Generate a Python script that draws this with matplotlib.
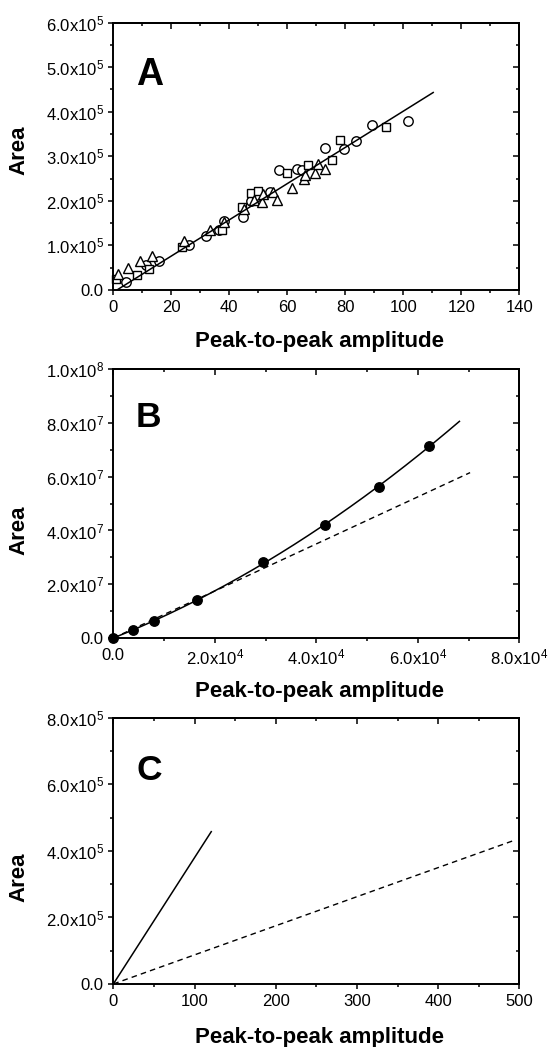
import numpy as np
import matplotlib
matplotlib.use("Agg")
import matplotlib.pyplot as plt
from matplotlib.ticker import MultipleLocator, FuncFormatter

plt.rcParams['font.family'] = ['Liberation Sans', 'DejaVu Sans']
plt.rcParams['mathtext.fontset'] = 'custom'
plt.rcParams['mathtext.rm'] = 'Liberation Sans'
plt.rcParams['mathtext.it'] = 'Liberation Sans:italic'
plt.rcParams['mathtext.bf'] = 'Liberation Sans:bold'

# ---- panel A: three open-marker series and a linear fit
a_circ_x = [4.4, 11.3, 15.9, 26.0, 31.8, 36.6, 38.0, 44.7, 47.5, 49.3, 54.1,
            57.1, 63.3, 65.0, 73.0, 79.4, 83.6, 89.3, 101.7]
a_circ_y = [0.19e5, 0.55e5, 0.645e5, 1.02e5, 1.215e5, 1.335e5, 1.545e5, 1.635e5,
            2.0e5, 2.12e5, 2.2e5, 2.685e5, 2.72e5, 2.685e5, 3.19e5, 3.17e5,
            3.345e5, 3.70e5, 3.80e5]
a_sq_x = [0.9, 8.2, 12.2, 23.7, 37.5, 44.4, 47.5, 49.9, 59.9, 67.1, 75.5, 78.0, 94.0]
a_sq_y = [0.25e5, 0.345e5, 0.47e5, 0.975e5, 1.35e5, 1.86e5, 2.175e5, 2.22e5,
          2.625e5, 2.80e5, 2.925e5, 3.36e5, 3.66e5]
a_tri_x = [1.5, 4.9, 9.2, 13.4, 24.5, 33.2, 38.0, 44.9, 48.4, 51.3, 51.6, 55.0,
           56.4, 61.7, 65.6, 66.0, 69.4, 70.6, 72.9]
a_tri_y = [0.36e5, 0.49e5, 0.64e5, 0.77e5, 1.11e5, 1.335e5, 1.52e5, 1.82e5,
           2.01e5, 1.97e5, 2.16e5, 2.2e5, 2.025e5, 2.295e5, 2.5e5, 2.57e5,
           2.625e5, 2.835e5, 2.72e5]
a_fit_x = [0, 110.3]
a_fit_y = [-0.05e5, 4.43e5]

# ---- panel B: filled points, curved fit, linear (dashed)
b_x = [0, 0.389e4, 0.805e4, 1.64e4, 2.94e4, 4.18e4, 5.23e4, 6.22e4]
b_y = [0, 2.9e6, 6.5e6, 1.4e7, 2.81e7, 4.21e7, 5.6e7, 7.15e7]
b_fit_xmax = 6.82e4
b_lin_x = [0, 7.03e4]
b_lin_y = [0, 6.15e7]

# ---- panel C: two lines
c_solid_x = [0, 120.6]
c_solid_y = [0, 4.58e5]
c_dash_x = [0, 495]
c_dash_y = [0, 4.33e5]


def sci(v, pos):
    """Origin style 2.0x10^5 labels."""
    if abs(v) < 1e-12:
        return "0.0"
    e = int(np.floor(np.log10(abs(v)) + 1e-9))
    return "%.1fx10$^{%d}$" % (v / 10**e, e)


def plain(v, pos):
    return "%d" % round(v)


def frame(ax, xlim, ylim, xmaj, xmin, ymaj, ymin, xfmt, yfmt):
    ax.set_xlim(*xlim)
    ax.set_ylim(*ylim)
    for s in ax.spines.values():
        s.set_linewidth(1.4)
    ax.xaxis.set_major_locator(MultipleLocator(xmaj))
    ax.xaxis.set_minor_locator(MultipleLocator(xmin))
    ax.yaxis.set_major_locator(MultipleLocator(ymaj))
    ax.yaxis.set_minor_locator(MultipleLocator(ymin))
    ax.xaxis.set_major_formatter(FuncFormatter(xfmt))
    ax.yaxis.set_major_formatter(FuncFormatter(yfmt))
    ax.tick_params(which='both', direction='out', width=1.1, labelsize=12,
                   top=False, right=False)
    ax.tick_params(which='major', length=3.5, pad=3.5)
    ax.tick_params(which='minor', length=2)
    # mirrored axes, ticks pointing in
    top = ax.secondary_xaxis('top')
    top.xaxis.set_major_locator(MultipleLocator(xmaj))
    top.xaxis.set_minor_locator(MultipleLocator(xmin))
    top.tick_params(which='both', direction='in', width=1.1, labeltop=False)
    top.tick_params(which='major', length=4)
    top.tick_params(which='minor', length=2)
    top.spines['top'].set_linewidth(1.4)
    right = ax.secondary_yaxis('right')
    right.yaxis.set_major_locator(MultipleLocator(ymaj))
    right.yaxis.set_minor_locator(MultipleLocator(ymin))
    right.tick_params(which='both', direction='in', width=1.1, labelright=False)
    right.tick_params(which='major', length=4)
    right.tick_params(which='minor', length=2)
    right.spines['right'].set_linewidth(1.4)


def labels(ax, xl_y, yl_y, letter, lsize, let_y):
    ax.set_xlabel("Peak-to-peak amplitude", fontsize=16, fontweight='bold')
    ax.xaxis.label.set_va('center')
    ax.xaxis.set_label_coords(0.508, xl_y)
    ax.set_ylabel("Area", fontsize=16, fontweight='bold')
    ax.yaxis.label.set_va('center')
    ax.yaxis.set_label_coords(-0.232, yl_y)
    ax.text(0.056, let_y, letter, transform=ax.transAxes, fontsize=lsize,
            fontweight='bold', va='baseline', ha='left')


fig = plt.figure(figsize=(5.52, 10.47), dpi=100)

# A
ax = fig.add_axes([0.2053, 0.7230, 0.7355, 0.2555])
frame(ax, (0, 140), (0, 6e5), 20, 10, 1e5, 0.5e5, plain, sci)
mk = dict(mfc='white', mec='black', mew=1.0, ls='none', clip_on=False)
ax.plot(a_circ_x, a_circ_y, marker='o', ms=6.8, **mk)
ax.plot(a_sq_x, a_sq_y, marker='s', ms=5.6, **mk)
ax.plot(a_tri_x, a_tri_y, marker='^', ms=7.2, **mk)
ax.plot(a_fit_x, a_fit_y, color='black', lw=1.1)
labels(ax, -0.194, 0.523, "A", 27, 0.766)

# B
ax = fig.add_axes([0.2053, 0.3906, 0.7355, 0.2569])
frame(ax, (0, 8e4), (0, 1e8), 2e4, 1e4, 2e7, 1e7, sci, sci)
coef = np.polyfit(b_x, b_y, 2)
xx = np.linspace(0, b_fit_xmax, 200)
ax.plot(xx, np.polyval(coef, xx), color='black', lw=1.1)
ax.plot(b_lin_x, b_lin_y, color='black', lw=1.0, dashes=(4, 3))
ax.plot(b_x, b_y, 'o', color='black', ms=6.8, clip_on=False, zorder=5)
labels(ax, -0.197, 0.40, "B", 25.5, 0.784)

# C
ax = fig.add_axes([0.2053, 0.0602, 0.7355, 0.2541])
frame(ax, (0, 500), (0, 8e5), 100, 50, 2e5, 1e5, plain, sci)
ax.plot(c_solid_x, c_solid_y, color='black', lw=1.1)
ax.plot(c_dash_x, c_dash_y, color='black', lw=1.0, dashes=(4, 3))
labels(ax, -0.203, 0.40, "C", 25.5, 0.767)

fig.savefig("out.png", dpi=100)
